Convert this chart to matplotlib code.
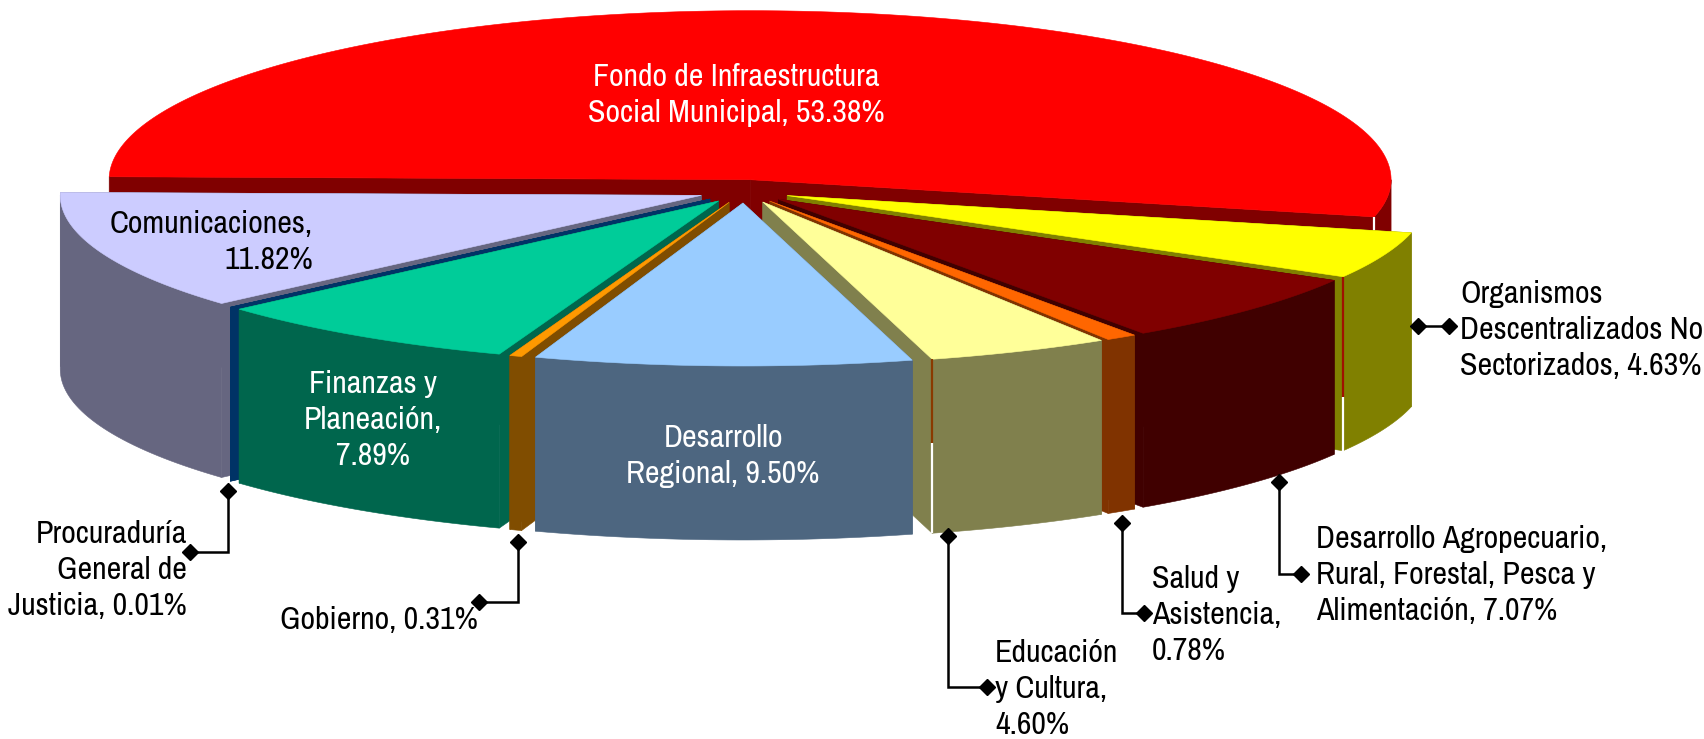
import numpy as np
import matplotlib
matplotlib.use("Agg")
import matplotlib.pyplot as plt
from matplotlib import font_manager

names = ["Fondo de Infraestructura\nSocial Municipal", "Organismos\nDescentralizados No\nSectorizados",
         "Desarrollo Agropecuario,\nRural, Forestal, Pesca y\nAlimentación", "Salud y\nAsistencia,\n",
         "Educación\ny Cultura,\n", "Desarrollo\nRegional", "Gobierno", "Finanzas y\nPlaneación,\n",
         "Procuraduría\nGeneral de\nJusticia", "Comunicaciones,\n"]
shares = [53.38, 4.63, 7.07, 0.78, 4.60, 9.50, 0.31, 7.89, 0.01, 11.82]
top_colors = ["#FF0000", "#FFFF00", "#800000", "#FF6600", "#FFFF99", "#99CCFF", "#FF9900", "#00CC99", "#003366", "#CCCCFF"]
side_colors = ["#800000", "#808000", "#400000", "#803300", "#80804D", "#4D6680", "#804D00", "#00664D", "#003366", "#666680"]

# pie geometry in pixels
CX, CY = 744.4, 191.3
RX, RY = 641.0, 163.0
RY_BACK = 169.0
EXPLODE = 46.0
DEPTH = 174.0
FIRST_ANGLE = 271.0

available = {f.name for f in font_manager.fontManager.ttflist}
FONT = "Liberation Sans"
for candidate in ["Liberation Sans Narrow", "Arimo Narrow", "Archivo Narrow", "Roboto Condensed"]:
    if candidate in available:
        FONT = candidate
        break


def point(phi, ax0, ay0):
    a = np.radians(phi)
    c = np.cos(a)
    return ax0 + RX * np.sin(a), ay0 - np.where(c > 0, RY_BACK, RY) * c


fig = plt.figure(figsize=(17.04, 7.39), dpi=100)
ax = fig.add_axes([0, 0, 1, 1])
ax.set_xlim(0, 1704)
ax.set_ylim(739, 0)
ax.axis("off")

layer = 1


def poly(xs, ys, color):
    global layer
    layer += 1
    ax.fill(xs, ys, facecolor=color, edgecolor=color, lw=0.4, zorder=layer)


total = sum(shares)
angles = FIRST_ANGLE + np.cumsum([0] + shares) / total * 360
mids = (angles[:-1] + angles[1:]) / 2
# back slices first
order = sorted(range(len(shares)), key=lambda k: -np.cos(np.radians(mids[k])))

seam_slices = {0: (0.0, "#FFFFFF"), 1: (0.69, "#A01000"), 4: (0.48, "#8A3A00")}

for i in order:
    s, e = angles[i], angles[i + 1]
    m = np.radians(mids[i])
    ax0 = CX + EXPLODE * np.sin(m)
    ay0 = CY - EXPLODE * RY / RX * np.cos(m)
    # radial walls
    for phi in (s, e):
        x, y = point(phi, ax0, ay0)
        poly([ax0, x, x, ax0], [ay0, y, y + DEPTH, ay0 + DEPTH], side_colors[i])
    # outer wall, front half only
    for base in (90, 450):
        lo, hi = max(s, base), min(e, base + 180)
        if hi > lo:
            t = np.linspace(lo, hi, 40)
            x, y = point(t, ax0, ay0)
            poly(np.r_[x, x[::-1]], np.r_[y, (y + DEPTH)[::-1]], side_colors[i])
    # top
    t = np.linspace(s, e, max(3, int(e - s) * 2))
    x, y = point(t, ax0, ay0)
    poly(np.r_[ax0, x], np.r_[ay0, y], top_colors[i])
    if i in seam_slices:
        split, col = seam_slices[i]
        x, y = point(e, ax0, ay0)
        layer += 1
        ax.plot([x, x], [y, y + DEPTH * split], color=col, lw=1.6, solid_capstyle="butt", zorder=layer)
        ax.plot([x, x], [y + DEPTH * split, y + DEPTH], color="white", lw=1.6, solid_capstyle="butt", zorder=layer)

label_pos = [(736, 95, "center", "center"), (1460, 330, "left", "center"), (1316, 575, "left", "center"),
             (1152, 615, "left", "center"), (995, 689, "left", "center"), (723, 456, "center", "center"),
             (478, 620, "right", "center"), (373, 420, "center", "center"), (187, 570, "right", "center"),
             (313, 242, "right", "center")]
label_colors = ["white", "black", "black", "black", "black", "white", "black", "white", "black", "black"]
for name, v, (x, y, ha, va), c in zip(names, shares, label_pos, label_colors):
    sep = "" if name.endswith("\n") else ", "
    ax.text(x, y, f"{name}{sep}{v:.2f}%", ha=ha, va=va, color=c, fontsize=23, family=FONT,
            linespacing=1.34, multialignment=ha, zorder=500)

# leader lines
leaders = [[(228, 491), (228, 552), (190, 552)],
           [(518, 542), (518, 602), (479, 602)],
           [(948, 536), (948, 687), (987, 687)],
           [(1122, 523), (1122, 613), (1144, 613)],
           [(1279, 482), (1279, 574), (1301, 574)],
           [(1418, 326), (1449, 326)]]
for pts in leaders:
    xs, ys = zip(*pts)
    ax.plot(xs, ys, color="black", lw=1.8, solid_joinstyle="miter", zorder=400)
    ax.plot([xs[0], xs[-1]], [ys[0], ys[-1]], ls="none", marker="D", ms=8.5, color="black", zorder=401)

fig.savefig("out.png", dpi=100)
